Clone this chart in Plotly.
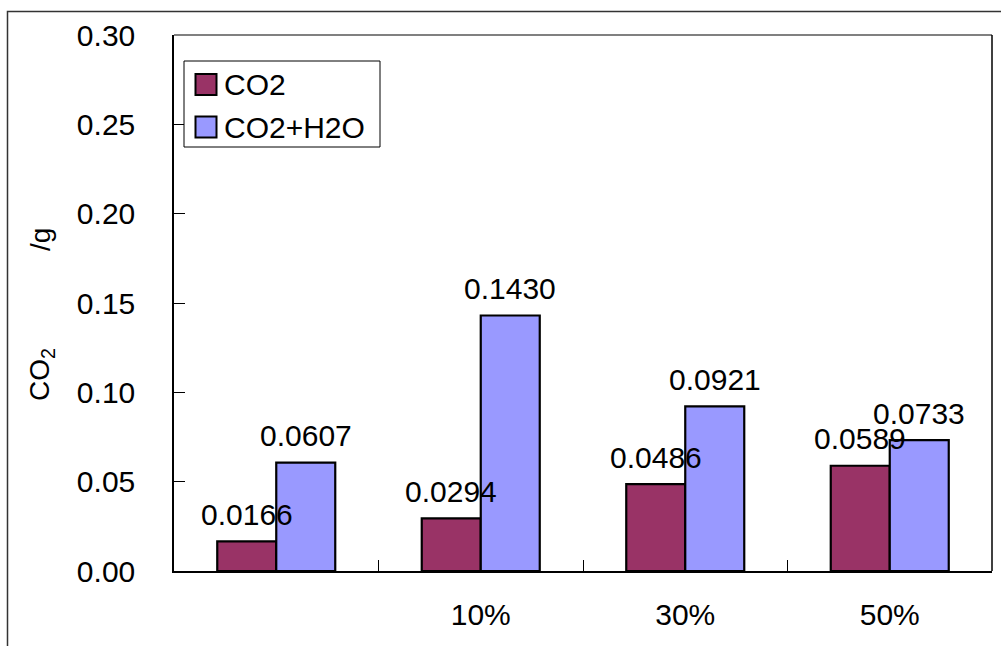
import plotly.graph_objects as go

# Series data
categories = ["", "10%", "30%", "50%"]
co2 = [0.0166, 0.0294, 0.0486, 0.0589]
co2_h2o = [0.0607, 0.1430, 0.0921, 0.0733]
series_names = ["CO2", "CO2+H2O"]
series_colors = ["#993366", "#9999FF"]
y_ticks = [0.00, 0.05, 0.10, 0.15, 0.20, 0.25, 0.30]

FONT = "Liberation Sans, Arial, sans-serif"
FSIZE = 30
BAR_GAP = 0.423

fig = go.Figure()
for name, vals, color in zip(series_names, [co2, co2_h2o], series_colors):
    fig.add_trace(go.Bar(
        x=categories, y=vals, name=name,
        marker=dict(color=color, line=dict(color="black", width=2.2)),
        showlegend=False,
    ))

# value labels above each bar
offset = (1 - BAR_GAP) / 4
for s, vals in enumerate([co2, co2_h2o]):
    for i, v in enumerate(vals):
        fig.add_annotation(
            x=i + (-offset if s == 0 else offset), y=v, xref="x", yref="y",
            text=f"{v:.4f}", showarrow=False, yanchor="middle", yshift=27,
            font=dict(family=FONT, size=FSIZE, color="black"),
        )

# plot-area border (top grey, right black) and outer chart frame
fig.add_shape(type="line", xref="paper", yref="paper", x0=0, x1=1, y0=1, y1=1,
              line=dict(color="#808080", width=2))
fig.add_shape(type="line", xref="paper", yref="paper", x0=1, x1=1, y0=0, y1=1,
              line=dict(color="black", width=1.5))
fig.add_shape(type="rect", xref="paper", yref="paper",
              x0=(7.5 - 174) / 818, x1=1.05, y0=-0.3, y1=(571 - 11.5) / 536,
              line=dict(color="#333333", width=1.5), layer="below")

# legend box
def px_x(p):
    return (p - 174) / 818

def px_y(p):
    return (571 - p) / 536

fig.add_shape(type="rect", xref="paper", yref="paper",
              x0=px_x(184), x1=px_x(380), y0=px_y(147), y1=px_y(61),
              line=dict(color="black", width=1), fillcolor="white")
for k, (name, color) in enumerate(zip(series_names, series_colors)):
    cy = 84.5 + 42.5 * k
    fig.add_shape(type="rect", xref="paper", yref="paper",
                  x0=px_x(195.5), x1=px_x(216.5), y0=px_y(cy + 10.5), y1=px_y(cy - 10.5),
                  line=dict(color="black", width=2), fillcolor=color)
    fig.add_annotation(x=px_x(222), y=px_y(cy), xref="paper", yref="paper",
                       text=name, showarrow=False, xanchor="left", yanchor="middle",
                       font=dict(family=FONT, size=FSIZE, color="black"))

# y-axis title pieces
fig.add_annotation(x=px_x(42), y=px_y(375), xref="paper", yref="paper",
                   text="CO<sub>2</sub>", showarrow=False, textangle=-90,
                   xanchor="center", yanchor="middle",
                   font=dict(family=FONT, size=28, color="black"))
fig.add_annotation(x=px_x(40), y=px_y(240), xref="paper", yref="paper",
                   text="/g", showarrow=False, textangle=-90,
                   xanchor="center", yanchor="middle",
                   font=dict(family=FONT, size=28, color="black"))

fig.update_layout(
    width=1001, height=646,
    margin=dict(l=174, r=9, t=35, b=75),
    paper_bgcolor="white", plot_bgcolor="white",
    barmode="group", bargap=BAR_GAP, bargroupgap=0,
    font=dict(family=FONT, size=FSIZE, color="black"),
    xaxis=dict(
        type="category", categoryorder="array", categoryarray=categories,
        showline=True, linecolor="black", linewidth=1.5,
        ticks="inside", tickson="boundaries", ticklen=11, tickcolor="black",
        tickwidth=1, ticklabelstandoff=16, showgrid=False, zeroline=False,
        automargin=False,
        tickfont=dict(family=FONT, size=FSIZE, color="black"),
    ),
    yaxis=dict(
        range=[0, 0.30], tickvals=y_ticks, tickformat=".2f",
        showline=True, linecolor="black", linewidth=1.5,
        ticks="inside", ticklen=11, tickcolor="black", tickwidth=1,
        ticklabelstandoff=31, showgrid=False, zeroline=False,
        automargin=False,
        tickfont=dict(family=FONT, size=FSIZE, color="black"),
    ),
)

fig.write_html("out.html")
